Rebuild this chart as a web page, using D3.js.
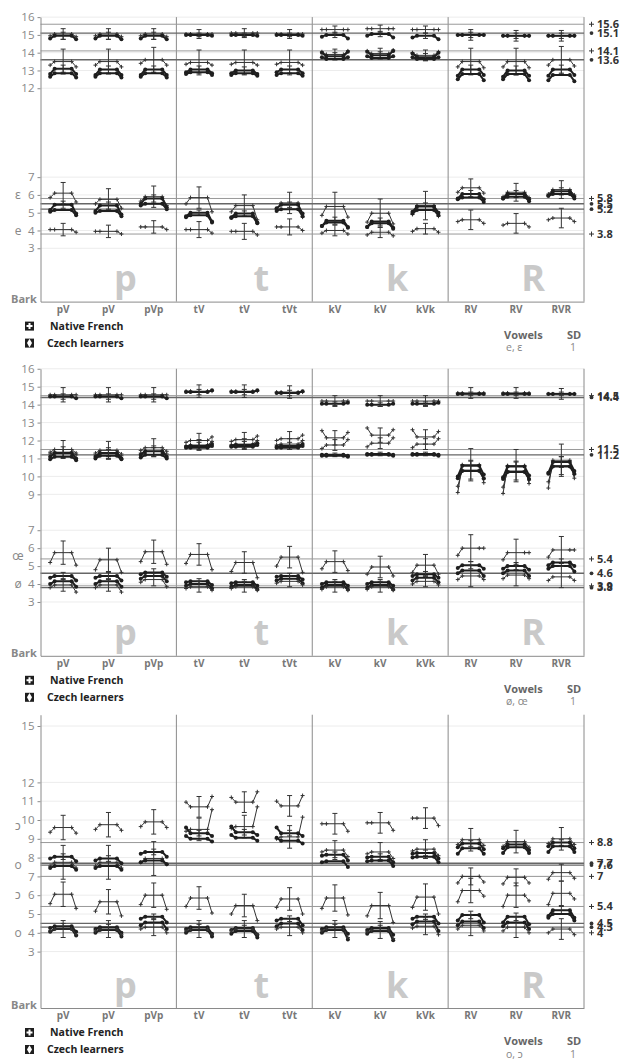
<!DOCTYPE html>
<html>
<head>
<meta charset="utf-8">
<script src="https://cdn.jsdelivr.net/npm/d3@7"></script>
<style>
  body { margin: 0; background: #fff; }
  svg { display: block; }
</style>
</head>
<body>
<div id="chart"></div>
<script>
// categories along x, grouped by consonant
var CATS = ["pV", "pV", "pVp", "tV", "tV", "tVt", "kV", "kV", "kVk", "RV", "RV", "RVR"];
var GROUPS = ["p", "t", "k", "R"];

// ---- panel 1 : e, ɛ  (mid values in Bark, one per category) ----
var p1FrE2   = [15.05, 15.05, 15.05, 15.05, 15.1, 15.05, 15.3, 15.35, 15.3, 15.0, 14.95, 14.95];
var p1CzE2   = [14.95, 14.95, 14.95, 15.0, 15.0, 15.0, 15.0, 15.05, 14.95, 15.0, 14.95, 14.95];
var p1FrEps2 = [13.5, 13.5, 13.6, 13.45, 13.45, 13.45, 13.9, 13.95, 13.85, 13.5, 13.5, 13.6];
var p1CzEps2 = [13.1, 13.05, 13.05, 13.05, 13.0, 13.05, 13.8, 13.85, 13.75, 13.05, 13.0, 13.05];
var p1CzE2b  = [12.85, 12.85, 12.85, 12.9, 12.85, 12.85, 13.65, 13.7, 13.65, 12.8, 12.8, 12.75];
var p1FrEps1 = [6.1, 5.75, 5.9, 5.85, 5.4, 5.55, 5.35, 4.97, 5.4, 6.4, 6.15, 6.3];
var p1CzF1a  = [5.45, 5.4, 5.8, 5.0, 4.95, 5.45, 4.55, 4.5, 5.35, 6.05, 6.05, 6.2];
var p1CzF1b  = [5.15, 5.1, 5.5, 4.85, 4.8, 5.2, 4.45, 4.4, 5.15, 5.85, 5.9, 6.05];
var p1FrE1   = [4.05, 3.95, 4.2, 4.05, 3.95, 4.2, 4.0, 3.9, 4.1, 4.6, 4.4, 4.7];
// shape per consonant group: [onset shift, offset shift, sd]
var p1FrE2Sh   = [[-0.1, -0.15, 0.3], [0, 0, 0.25], [0, 0, 0.2], [0, 0, 0.3]];
var p1CzE2Sh   = [[-0.15, -0.2, 0.2], [0, -0.05, 0.1], [-0.1, -0.2, 0.15], [0, 0, 0.15]];
var p1FrEps2Sh = [[-0.2, -0.3, 0.7], [-0.1, -0.15, 0.7], [0.15, 0.2, 0.3], [-0.3, -0.35, 0.75]];
var p1CzEps2Sh = [[-0.3, -0.3, 0.2], [-0.15, -0.2, 0.2], [0.2, 0.25, 0.2], [-0.35, -0.3, 0.25]];
var p1CzE2bSh  = [[-0.2, -0.25, 0], [-0.1, -0.15, 0], [0.1, 0.1, 0], [-0.3, -0.35, 0]];
var p1FrEps1Sh = [[-0.25, -0.5, 0.6], [-0.35, -0.8, 0.6], [-0.5, -0.6, 0.8], [-0.25, -0.3, 0.5]];
var p1CzF1aSh  = [[-0.3, -0.5, 0.2], [-0.2, -0.5, 0.15], [-0.3, -0.35, 0.2], [-0.25, -0.3, 0.2]];
var p1CzF1bSh  = [[-0.1, -0.3, 0], [-0.1, -0.4, 0], [-0.2, -0.3, 0], [-0.1, -0.25, 0]];
var p1FrE1Sh   = [[0, -0.15, 0.35], [0, -0.2, 0.45], [-0.15, -0.2, 0.3], [-0.1, -0.2, 0.55]];
var p1RefFr = [15.6, 14.1, 5.8, 3.8];
var p1RefCz = [15.1, 13.6, 5.5, 5.2];
var p1Ticks = [16, 15, 14, 13, 12, 7, 6, 5, 4, 3];
var p1Vowels = [["ɛ", 6], ["e", 4]];

// ---- panel 2 : ø, œ ----
var p2FrF3  = [14.55, 14.55, 14.55, 14.75, 14.75, 14.7, 14.2, 14.2, 14.2, 14.65, 14.65, 14.6];
var p2CzF3  = [14.45, 14.45, 14.45, 14.7, 14.7, 14.65, 14.05, 14.0, 14.05, 14.6, 14.6, 14.6];
var p2FrF2a = [11.5, 11.45, 11.6, 12.0, 12.05, 12.1, 12.15, 12.3, 12.2, 10.65, 10.6, 10.9];
var p2FrF2b = [11.35, 11.3, 11.4, 11.75, 11.8, 11.8, 11.75, 11.85, 11.8, 10.35, 10.3, 10.6];
var p2CzF2a = [11.3, 11.3, 11.4, 11.7, 11.75, 11.7, 11.2, 11.25, 11.25, 10.6, 10.55, 10.8];
var p2CzF2b = [11.1, 11.15, 11.2, 11.6, 11.65, 11.6, 11.15, 11.2, 11.2, 10.3, 10.25, 10.55];
var p2FrOe1 = [5.75, 5.35, 5.8, 5.65, 5.2, 5.5, 5.25, 4.95, 5.05, 6.0, 5.75, 5.9];
var p2CzF1a = [4.45, 4.45, 4.65, 4.15, 4.1, 4.45, 4.1, 4.1, 4.55, 5.05, 5.0, 5.2];
var p2CzF1b = [4.15, 4.15, 4.45, 4.0, 3.95, 4.3, 3.95, 3.95, 4.35, 4.75, 4.75, 5.0];
var p2FrO1  = [3.95, 3.95, 4.25, 3.85, 3.85, 4.15, 3.85, 3.85, 4.15, 4.45, 4.5, 4.4];
var p2FrF3Sh  = [[0, 0, 0.4], [0, 0, 0.35], [0, 0, 0.3], [0, 0, 0.3]];
var p2CzF3Sh  = [[0, -0.1, 0.15], [0, 0.1, 0.15], [0, 0.05, 0.1], [0, 0, 0.1]];
var p2FrF2aSh = [[-0.15, -0.2, 0.5], [-0.1, 0.2, 0.4], [0.4, 0.3, 0.4], [-1.55, -1.0, 0.9]];
var p2FrF2bSh = [[-0.1, -0.15, 0.3], [-0.05, 0.2, 0.3], [-0.2, 0.3, 0.3], [-0.9, -0.5, 0.5]];
var p2CzF2aSh = [[-0.2, -0.3, 0.2], [-0.05, 0.1, 0.2], [0, -0.05, 0.1], [-0.6, -0.5, 0.3]];
var p2CzF2bSh = [[-0.15, -0.2, 0], [0, 0.1, 0], [0, -0.05, 0], [-0.4, -0.4, 0]];
var p2FrOe1Sh = [[-0.55, -0.7, 0.65], [-0.5, -0.85, 0.6], [-0.4, -0.5, 0.6], [-0.4, 0, 0.75]];
var p2CzF1aSh = [[-0.1, -0.25, 0.2], [-0.05, -0.2, 0.15], [-0.1, -0.2, 0.15], [-0.15, -0.2, 0.2]];
var p2CzF1bSh = [[-0.15, -0.3, 0], [-0.1, -0.25, 0], [-0.15, -0.25, 0], [-0.15, -0.3, 0]];
var p2FrO1Sh  = [[-0.15, -0.4, 0.35], [-0.1, -0.2, 0.3], [-0.15, -0.2, 0.3], [-0.2, -0.2, 0.6]];
var p2RefFr = [14.5, 11.5, 5.4, 3.9];
var p2RefCz = [14.4, 11.2, 4.6, 3.8];
var p2Ticks = [16, 15, 14, 13, 12, 11, 10, 9, 7, 6, 5, 4, 3];
var p2Vowels = [["œ", 5.6], ["ø", 4]];

// ---- panel 3 : o, ɔ ----
var p3FrOpen2 = [9.6, 9.75, 9.9, 10.7, 10.95, 10.75, 9.8, 9.85, 10.1, 8.95, 8.85, 9.0];
var p3FrO2    = [7.75, 7.75, 7.95, 9.5, 9.65, 9.1, 8.4, 8.3, 8.45, 7.0, 6.95, 7.2];
var p3CzF2a   = [8.05, 7.95, 8.3, 9.3, 9.35, 9.3, 8.15, 8.05, 8.25, 8.75, 8.7, 8.8];
var p3CzF2b   = [7.55, 7.55, 7.85, 9.0, 9.05, 8.9, 7.8, 7.85, 8.05, 8.5, 8.55, 8.6];
var p3FrOpen1 = [6.05, 5.65, 6.0, 5.85, 5.45, 5.8, 5.85, 5.45, 5.9, 6.25, 6.0, 6.1];
var p3CzF1a   = [4.35, 4.3, 4.85, 4.3, 4.25, 4.75, 4.3, 4.25, 4.85, 4.95, 4.85, 5.2];
var p3CzF1b   = [4.2, 4.15, 4.55, 4.15, 4.1, 4.5, 4.15, 4.1, 4.6, 4.6, 4.55, 5.0];
var p3FrO1    = [4.2, 4.2, 4.3, 4.2, 4.2, 4.3, 4.2, 4.15, 4.35, 4.4, 4.3, 4.2];
var p3FrOpen2Sh = [[-0.25, -0.3, 0.65], [0.25, 0.55, 0.55], [0, -0.4, 0.55], [-0.25, -0.3, 0.6]];
var p3FrO2Sh    = [[-0.2, -0.3, 0.9], [-0.1, 1.05, 0.6], [-0.1, -0.35, 0.5], [-0.35, -0.3, 0.45]];
var p3CzF2aSh   = [[-0.1, -0.25, 0.15], [0.3, -0.15, 0.15], [-0.05, -0.3, 0.15], [-0.2, -0.3, 0.15]];
var p3CzF2bSh   = [[-0.1, -0.2, 0], [0.15, -0.15, 0], [-0.05, -0.3, 0], [-0.3, -0.3, 0]];
var p3FrOpen1Sh = [[-0.5, -0.75, 0.65], [-0.45, -0.8, 0.6], [-0.55, -0.9, 0.7], [-0.6, -0.3, 0.65]];
var p3CzF1aSh   = [[-0.1, -0.3, 0.15], [-0.1, -0.35, 0.15], [-0.1, -0.35, 0.15], [-0.3, -0.4, 0.2]];
var p3CzF1bSh   = [[-0.15, -0.35, 0], [-0.15, -0.35, 0], [-0.15, -0.5, 0], [-0.2, -0.35, 0]];
var p3FrO1Sh    = [[-0.1, -0.3, 0.45], [-0.1, -0.3, 0.45], [-0.1, -0.45, 0.45], [-0.2, -0.3, 0.55]];
var p3RefFr = [8.8, 7, 5.4, 4];
var p3RefCz = [7.7, 7.6, 4.5, 4.3];
var p3Ticks = [15, 12, 11, 10, 9, 8, 7, 6, 5, 4, 3];
var p3Vowels = [["ɔ", 9.7], ["o", 7.6], ["ɔ", 6], ["o", 4]];

var WIDTH = 625;
var HEIGHT = 1061;
var LEFT = 40.5;
var RIGHT = 584;
var FONT = "'Open Sans', 'Noto Sans', sans-serif";

var panels = [
    {y0: 301.6, k: 17.78, top: 16, ticks: p1Ticks, vowels: p1Vowels, refFr: p1RefFr, refCz: p1RefCz, legend: "e, ɛ",
     series: [
        ["fr", p1FrE2, p1FrE2Sh], ["cz", p1CzE2, p1CzE2Sh], ["fr", p1FrEps2, p1FrEps2Sh],
        ["cz", p1CzEps2, p1CzEps2Sh], ["cz", p1CzE2b, p1CzE2bSh], ["fr", p1FrEps1, p1FrEps1Sh],
        ["cz", p1CzF1a, p1CzF1aSh], ["cz", p1CzF1b, p1CzF1bSh], ["fr", p1FrE1, p1FrE1Sh]]},
    {y0: 655.8, k: 17.94, top: 16, ticks: p2Ticks, vowels: p2Vowels, refFr: p2RefFr, refCz: p2RefCz, legend: "ø, œ",
     series: [
        ["fr", p2FrF3, p2FrF3Sh], ["cz", p2CzF3, p2CzF3Sh], ["fr", p2FrF2a, p2FrF2aSh],
        ["fr", p2FrF2b, p2FrF2bSh], ["cz", p2CzF2a, p2CzF2aSh], ["cz", p2CzF2b, p2CzF2bSh],
        ["fr", p2FrOe1, p2FrOe1Sh], ["cz", p2CzF1a, p2CzF1aSh], ["cz", p2CzF1b, p2CzF1bSh],
        ["fr", p2FrO1, p2FrO1Sh]]},
    {y0: 1008, k: 18.8, top: 15.6, ticks: p3Ticks, vowels: p3Vowels, refFr: p3RefFr, refCz: p3RefCz, legend: "o, ɔ",
     series: [
        ["fr", p3FrOpen2, p3FrOpen2Sh], ["fr", p3FrO2, p3FrO2Sh], ["cz", p3CzF2a, p3CzF2aSh],
        ["cz", p3CzF2b, p3CzF2bSh], ["fr", p3FrOpen1, p3FrOpen1Sh], ["cz", p3CzF1a, p3CzF1aSh],
        ["cz", p3CzF1b, p3CzF1bSh], ["fr", p3FrO1, p3FrO1Sh]]}
];

var svg = d3.select("#chart").append("svg")
    .attr("width", WIDTH)
    .attr("height", HEIGHT)
    .style("font-family", FONT);

var x = d3.scaleBand().domain(d3.range(CATS.length)).range([LEFT, RIGHT]);
var groupX = d3.scaleBand().domain(GROUPS).range([LEFT, RIGHT]);

panels.forEach(function (p) { drawPanel(p); });

function drawPanel(p) {
    var y = d3.scaleLinear().domain([0, p.top]).range([p.y0, p.y0 - p.top * p.k]);
    var g = svg.append("g");

    // light grid at labelled ticks
    g.selectAll("line.grid").data(p.ticks).enter().append("line")
        .attr("x1", LEFT).attr("x2", RIGHT)
        .attr("y1", function (d) { return y(d); })
        .attr("y2", function (d) { return y(d); })
        .attr("stroke", "#ececec");

    // big consonant letters
    g.selectAll("text.cons").data(GROUPS).enter().append("text")
        .attr("x", function (d) { return groupX(d) + 85; })
        .attr("y", p.y0 - 10.5)
        .attr("text-anchor", "middle")
        .attr("font-size", 36)
        .attr("font-weight", "bold")
        .attr("fill", "#c9c9c9")
        .text(function (d) { return d; });

    // group separators and right frame
    g.selectAll("line.sep").data(GROUPS.slice(1).concat(["end"])).enter().append("line")
        .attr("x1", function (d) { return d === "end" ? RIGHT : groupX(d); })
        .attr("x2", function (d) { return d === "end" ? RIGHT : groupX(d); })
        .attr("y1", y(p.top)).attr("y2", p.y0)
        .attr("stroke", "#8a8a8a");

    // reference (mean) lines
    var refs = p.refFr.map(function (v) { return ["fr", v]; })
        .concat(p.refCz.map(function (v) { return ["cz", v]; }));
    g.selectAll("line.ref").data(refs).enter().append("line")
        .attr("x1", LEFT).attr("x2", RIGHT)
        .attr("y1", function (d) { return y(d[1]); })
        .attr("y2", function (d) { return y(d[1]); })
        .attr("stroke", function (d) { return d[0] === "fr" ? "#999" : "#666"; })
        .attr("stroke-width", function (d) { return d[0] === "fr" ? 1 : 1.4; });
    refs.forEach(function (d) {
        var yy = y(d[1]);
        if (d[0] === "fr") {
            g.append("path").attr("d", "M589," + yy + "h5M591.5," + (yy - 2.5) + "v5")
                .attr("stroke", "#333").attr("stroke-width", 1);
        } else {
            g.append("circle").attr("cx", 591.5).attr("cy", yy).attr("r", 1.9).attr("fill", "#333");
        }
        g.append("text").attr("x", 597).attr("y", yy).attr("dy", "0.35em")
            .attr("font-size", 11).attr("font-weight", "bold").attr("fill", "#333")
            .text(d[1]);
    });

    // glyphs
    p.series.forEach(function (s) { drawSeries(g, y, s[0], s[1], s[2]); });

    // axes
    var yAxis = g.append("g")
        .attr("transform", "translate(" + LEFT + ",0)")
        .call(d3.axisLeft(y).tickValues(p.ticks).tickSize(3).tickSizeOuter(0).tickPadding(3));
    yAxis.select(".domain").attr("stroke", "#8a8a8a");
    yAxis.selectAll(".tick line").attr("stroke", "#8a8a8a");
    yAxis.selectAll("text").attr("fill", "#888").attr("font-size", 11.5).attr("font-family", FONT);

    var xAxis = g.append("g")
        .attr("transform", "translate(0," + p.y0 + ")")
        .call(d3.axisBottom(x).tickSize(0).tickSizeOuter(0).tickPadding(4)
            .tickFormat(function (i) { return CATS[i]; }));
    xAxis.select(".domain").attr("stroke", "#8a8a8a");
    xAxis.selectAll("text").attr("fill", "#777").attr("font-size", 10)
        .attr("font-weight", "bold").attr("font-family", FONT);

    g.append("text").attr("x", 11).attr("y", p.y0 + 1)
        .attr("font-size", 11).attr("font-weight", "bold").attr("fill", "#888")
        .text("Bark");

    // vowel marks at the left
    g.selectAll("text.vowel").data(p.vowels).enter().append("text")
        .attr("x", 18).attr("y", function (d) { return y(d[1]); })
        .attr("dy", "0.35em").attr("text-anchor", "middle")
        .attr("font-size", 12).attr("fill", "#888")
        .text(function (d) { return d[0]; });

    // legend
    var ly = p.y0 + 24.5;
    var leg = [["fr", "Native French", 50], ["cz", "Czech learners", 47]];
    leg.forEach(function (d, i) {
        var cy = ly + i * 17;
        g.append("rect").attr("x", 25).attr("y", cy - 4.5).attr("width", 9).attr("height", 9).attr("fill", "#1e1e1e");
        if (d[0] === "fr") {
            g.append("path").attr("d", "M26.5," + cy + "h6M29.5," + (cy - 3) + "v6")
                .attr("stroke", "#fff").attr("stroke-width", 2);
        } else {
            g.append("path").attr("d", d3.symbol(d3.symbolDiamond, 22)())
                .attr("transform", "translate(29.5," + cy + ")").attr("fill", "#fff");
        }
        g.append("text").attr("x", d[2]).attr("y", cy).attr("dy", "0.35em")
            .attr("font-size", 10.5).attr("font-weight", "bold").attr("fill", "#222")
            .text(d[1]);
    });
    g.append("text").attr("x", 504).attr("y", p.y0 + 33.5).attr("dy", "0.35em")
        .attr("font-size", 11).attr("font-weight", "bold").attr("fill", "#666").text("Vowels");
    g.append("text").attr("x", 567).attr("y", p.y0 + 33.5).attr("dy", "0.35em")
        .attr("font-size", 11).attr("font-weight", "bold").attr("fill", "#666").text("SD");
    g.append("text").attr("x", 506).attr("y", p.y0 + 46).attr("dy", "0.35em")
        .attr("font-size", 10.5).attr("fill", "#888").text(p.legend);
    g.append("text").attr("x", 570).attr("y", p.y0 + 46).attr("dy", "0.35em")
        .attr("font-size", 10.5).attr("fill", "#888").text("1");
}

function drawSeries(g, y, grp, mids, shape) {
    var OFFS = [-13, -8.5, 0, 8.5, 13];
    var thin = grp === "fr";
    var sg = g.append("g");
    mids.forEach(function (mid, i) {
        var sh = shape[Math.floor(i / 3)];
        var cx = x(i) + x.bandwidth() / 2;
        var vals = [mid + sh[0], mid, mid, mid, mid + sh[1]];
        var pts = vals.map(function (v, j) { return [cx + OFFS[j], y(v)]; });
        sg.append("path")
            .attr("d", d3.line()(pts))
            .attr("fill", "none")
            .attr("stroke", thin ? "#333" : "#1e1e1e")
            .attr("stroke-width", thin ? 1 : 2);
        if (sh[2] > 0) {
            var y1 = y(mid + sh[2]), y2 = y(mid - sh[2]);
            sg.append("path")
                .attr("d", "M" + cx + "," + y1 + "V" + y2 +
                    "M" + (cx - 2.5) + "," + y1 + "h5M" + (cx - 2.5) + "," + y2 + "h5")
                .attr("stroke", "#333").attr("stroke-width", 1).attr("fill", "none");
        }
        [0, 1, 3, 4].forEach(function (j) {
            var pt = pts[j];
            if (thin) {
                sg.append("path")
                    .attr("d", "M" + (pt[0] - 2) + "," + pt[1] + "h4M" + pt[0] + "," + (pt[1] - 2) + "v4")
                    .attr("stroke", "#333").attr("stroke-width", 1);
            } else {
                sg.append("circle").attr("cx", pt[0]).attr("cy", pt[1]).attr("r", 2).attr("fill", "#1e1e1e");
            }
        });
    });
}
</script>
</body>
</html>
